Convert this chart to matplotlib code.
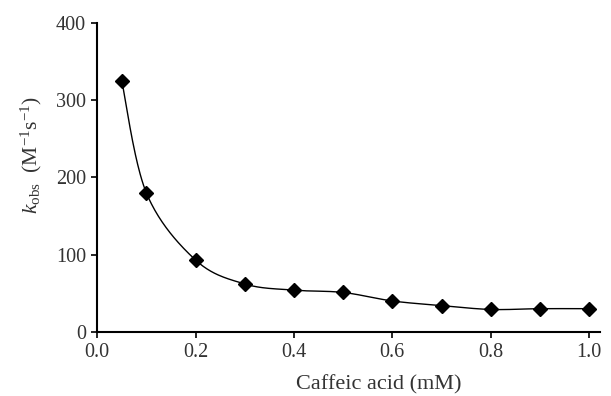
import numpy as np
import matplotlib
matplotlib.use("Agg")
import matplotlib.pyplot as plt

# -------------------------------
# data
# -------------------------------
caffeic_mM = [0.05, 0.1, 0.2, 0.3, 0.4, 0.5, 0.6, 0.7, 0.8, 0.9, 1.0]
k_obs = [325, 180, 93, 62, 54, 51, 40, 34, 29, 30, 30]

x_ticks = [0.0, 0.2, 0.4, 0.6, 0.8, 1.0]
y_ticks = [0, 100, 200, 300, 400]

plt.rcParams["font.family"] = ["Liberation Serif", "DejaVu Serif"]
plt.rcParams["mathtext.fontset"] = "custom"
plt.rcParams["mathtext.rm"] = "Liberation Serif"
plt.rcParams["mathtext.it"] = "Liberation Serif:italic"


# -------------------------------
# smoothed line (Catmull-Rom, like a spreadsheet "smoothed line")
# -------------------------------
def smooth_line(xs, ys, n=40):
    pts = np.column_stack([xs, ys]).astype(float)
    pts = np.vstack([pts[0], pts, pts[-1]])
    out = []
    for i in range(1, len(pts) - 2):
        p0, p1, p2, p3 = pts[i - 1], pts[i], pts[i + 1], pts[i + 2]
        t = np.linspace(0, 1, n)[:, None]
        seg = 0.5 * ((2 * p1) + (-p0 + p2) * t
                     + (2 * p0 - 5 * p1 + 4 * p2 - p3) * t ** 2
                     + (-p0 + 3 * p1 - 3 * p2 + p3) * t ** 3)
        out.append(seg)
    out = np.vstack(out)
    return out[:, 0], out[:, 1]


# scale x so both axes have similar pixel weight for the spline
sx = 400.0 / 1.0 * (492.0 / 309.0)
cx, cy = smooth_line(np.array(caffeic_mM) * sx, k_obs)
cx = cx / sx

fig = plt.figure(figsize=(6.11, 3.96), dpi=100)
ax = fig.add_axes([0.159, 0.162, 0.823, 0.780])

ax.plot(cx, cy, color="black", lw=1.0)
ax.plot(caffeic_mM, k_obs, linestyle="none", marker="D", markersize=7,
        color="black")

ax.set_xlim(0, 1.022)
ax.set_ylim(0, 400)
ax.set_xticks(x_ticks)
ax.set_xticklabels(["%.1f" % v for v in x_ticks])
ax.set_yticks(y_ticks)

for side in ["top", "right"]:
    ax.spines[side].set_visible(False)
for side in ["left", "bottom"]:
    ax.spines[side].set_linewidth(1.5)

ax.tick_params(direction="out", length=4, width=1.2, labelsize=14.5,
               colors="black", labelcolor="#333333", pad=4)

ax.set_xlabel("Caffeic acid (mM)", fontsize=16, color="#333333")
ax.set_ylabel(r"$k_{\mathrm{obs}}$  (M$^{-1}$s$^{-1}$)", fontsize=15.5,
              color="#333333")
ax.xaxis.set_label_coords(0.56, -0.14)
ax.yaxis.set_label_coords(-0.105, 0.573)

fig.savefig("out.png", dpi=100)
